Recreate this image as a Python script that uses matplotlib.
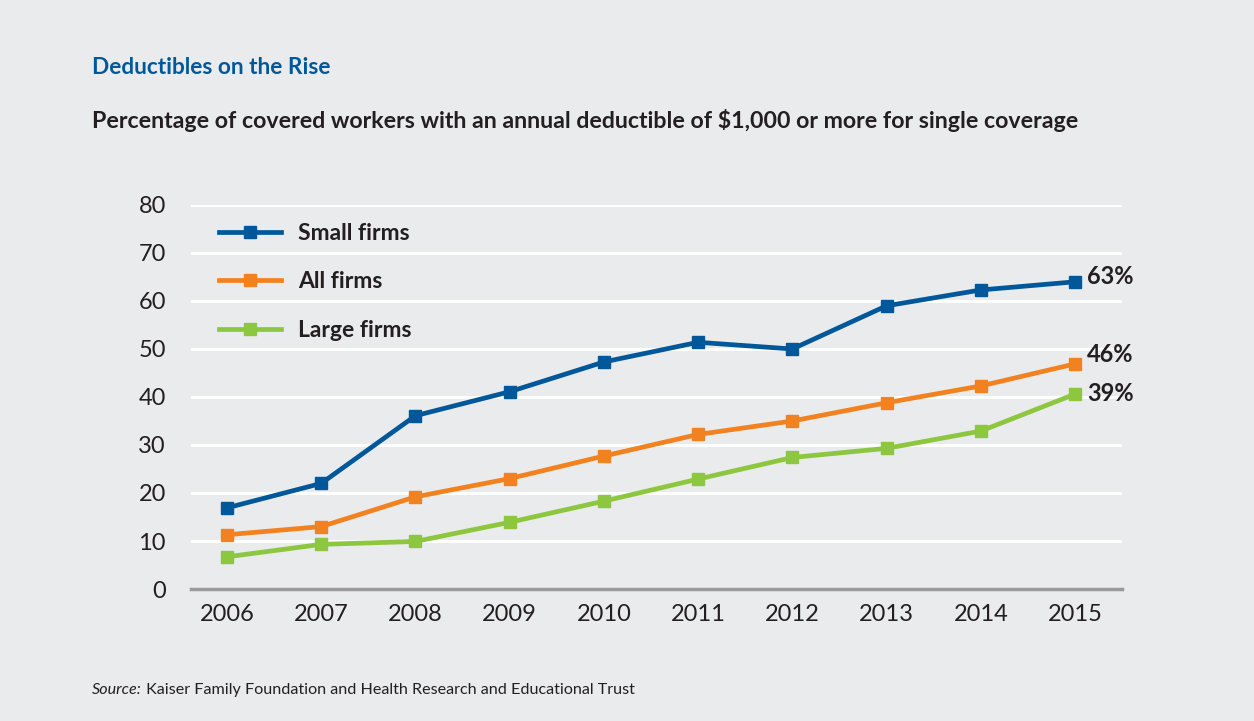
import matplotlib
matplotlib.use("Agg")
import matplotlib.pyplot as plt

years = [2006, 2007, 2008, 2009, 2010, 2011, 2012, 2013, 2014, 2015]
small_firms = [16.9, 22.0, 36.1, 41.1, 47.3, 51.4, 50.0, 59.0, 62.3, 64.0]
all_firms = [11.3, 13.0, 19.2, 23.0, 27.7, 32.2, 35.0, 38.8, 42.3, 46.9]
large_firms = [6.7, 9.3, 9.9, 13.9, 18.3, 22.9, 27.4, 29.3, 32.9, 40.6]
series_names = ["Small firms", "All firms", "Large firms"]
end_labels = ["63%", "46%", "39%"]
yticks = [0, 10, 20, 30, 40, 50, 60, 70, 80]

BG = "#EAEBEC"
colors = ["#00589A", "#F28220", "#8DC63F"]
FONT = "Lato"

fig = plt.figure(figsize=(12.54, 7.21), dpi=100, facecolor=BG)
ax = fig.add_axes([191/1254, 1-589/721, (1122-191)/1254, (589-205)/721])
ax.set_facecolor(BG)

for s in ["top", "right", "left"]:
    ax.spines[s].set_visible(False)
ax.spines["bottom"].set_color("#9A9A9A")
ax.spines["bottom"].set_linewidth(2.5)

ax.set_xlim(2005.618, 2015.499)
ax.set_ylim(0, 80)
ax.set_yticks(yticks)
ax.set_yticklabels([str(t) for t in yticks])
ax.set_xticks(years)
ax.set_xticklabels([str(y) for y in years])
ax.yaxis.grid(True, color="white", linewidth=2.2)
ax.set_axisbelow(True)
ax.tick_params(axis="both", length=0, labelsize=17, labelcolor="#231F20")
ax.tick_params(axis="y", pad=18)
ax.tick_params(axis="x", pad=11)
for lab in ax.get_xticklabels() + ax.get_yticklabels():
    lab.set_fontfamily(FONT)

data = [small_firms, all_firms, large_firms]
handles = []
for vals, c, name in zip(data, colors, series_names):
    h, = ax.plot(years, vals, color=c, linewidth=3.4, marker="s", markersize=9,
                 label=name, clip_on=False, zorder=3)
    handles.append(h)

offsets = [5, 9, 1]
for vals, lab, dy in zip(data, end_labels, offsets):
    ax.annotate(lab, xy=(years[-1], vals[-1]), xytext=(12, dy), textcoords="offset pixels",
                ha="left", va="center", fontsize=17, fontweight="bold",
                family=FONT, color="#231F20")

leg = ax.legend(handles=handles, loc="upper left", bbox_to_anchor=(0.008, 1.008),
                frameon=False, handlelength=2.7, handletextpad=0.75, labelspacing=1.2,
                prop={"family": FONT, "weight": "bold", "size": 16.5})
for t in leg.get_texts():
    t.set_color("#231F20")

fig.text(92/1254, 1-68/721, "Deductibles on the Rise", fontsize=16.3, fontweight="bold",
         family=FONT, color="#00589A", va="center", ha="left")
fig.text(92/1254, 1-120/721,
         "Percentage of covered workers with an annual deductible of $1,000 or more for single coverage",
         fontsize=16.7, fontweight="bold", family=FONT, color="#231F20", va="center", ha="left")

src = fig.text(92/1254, 1-690/721, "Source:", fontsize=11.6, style="italic", family=FONT,
               color="#231F20", va="center", ha="left")
ax.annotate(" Kaiser Family Foundation and Health Research and Educational Trust",
            xy=(1, 0.5), xycoords=src, va="center", ha="left", fontsize=11.6,
            family=FONT, color="#231F20", annotation_clip=False)

fig.savefig("out.png", dpi=100, facecolor=BG)
